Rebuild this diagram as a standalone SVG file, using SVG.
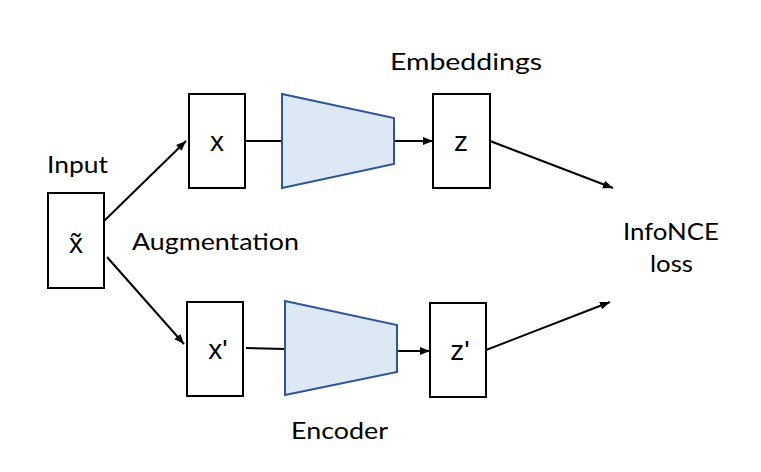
<svg xmlns="http://www.w3.org/2000/svg" width="761" height="472" viewBox="0 0 761 472">
<defs>
<marker id="ah" viewBox="0 0 10 10" refX="10" refY="5" markerWidth="10" markerHeight="10" markerUnits="userSpaceOnUse" orient="auto">
<path d="M0,1 L10,5 L0,9 z" fill="#000"/>
</marker>
<style>
.box{fill:#fff;stroke:#000;stroke-width:2}
.enc{fill:#dde8f5;stroke:#2f5597;stroke-width:2}
.lbl{font-family:Lato,"Noto Sans",sans-serif;font-size:23px;fill:#000}
.var{font-family:"Liberation Sans",Arial,sans-serif;font-size:28px;fill:#000;text-anchor:middle}
.ln{stroke:#000;stroke-width:2;fill:none}
</style>
</defs>
<rect width="761" height="472" fill="#fff"/>
<g id="connectors">
<line class="ln" x1="104" y1="221" x2="186" y2="141" marker-end="url(#ah)"/>
<line class="ln" x1="107" y1="257" x2="184" y2="344" marker-end="url(#ah)"/>
<line class="ln" x1="245" y1="141" x2="282" y2="141"/>
<line class="ln" x1="394" y1="141" x2="433" y2="141" marker-end="url(#ah)"/>
<line class="ln" x1="246" y1="348" x2="285" y2="349"/>
<line class="ln" x1="397" y1="351" x2="430" y2="351" marker-end="url(#ah)"/>
<line class="ln" x1="490" y1="141" x2="613" y2="188" marker-end="url(#ah)"/>
<line class="ln" x1="486" y1="350" x2="610" y2="302" marker-end="url(#ah)"/>
</g>
<g id="input">
<rect class="box" x="48" y="193" width="56" height="95"/>
<text class="var" x="76" y="253">x̃</text>
</g>
<g id="x">
<rect class="box" x="189" y="94" width="56" height="94"/>
<text class="var" x="217" y="151">x</text>
</g>
<g id="encoder-top">
<polygon class="enc" points="282,94 394,118 394,164 282,188"/>
</g>
<g id="z">
<rect class="box" x="433" y="94" width="57" height="94"/>
<text class="var" x="461" y="151">z</text>
</g>
<g id="xp">
<rect class="box" x="187" y="302" width="56" height="94"/>
<text class="var" x="218" y="359">x'</text>
</g>
<g id="encoder-bottom">
<polygon class="enc" points="285,301 397,325 397,372 285,395"/>
</g>
<g id="zp">
<rect class="box" x="430" y="303" width="56" height="94"/>
<text class="var" x="460" y="360">z'</text>
</g>
<g id="labels">
<text class="lbl" x="390" y="70" textLength="152" lengthAdjust="spacingAndGlyphs">Embeddings</text>
<text class="lbl" x="47" y="173" textLength="61" lengthAdjust="spacingAndGlyphs">Input</text>
<text class="lbl" x="132" y="250" textLength="167" lengthAdjust="spacingAndGlyphs">Augmentation</text>
<text class="lbl" x="623" y="240" textLength="96" lengthAdjust="spacingAndGlyphs">InfoNCE</text>
<text class="lbl" x="650" y="272" textLength="43" lengthAdjust="spacingAndGlyphs">loss</text>
<text class="lbl" x="291" y="439" textLength="97" lengthAdjust="spacingAndGlyphs">Encoder</text>
</g>
</svg>
